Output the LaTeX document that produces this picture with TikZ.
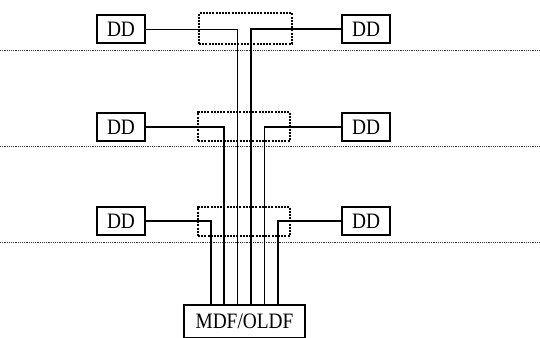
\documentclass[tikz,border=0pt]{standalone}
\usepackage{fontspec}
\setmainfont{Liberation Serif}
\newcommand{\lbltext}[1]{\scalebox{0.88}[1]{\fontsize{22}{22}\selectfont #1}}
\begin{document}
\begin{tikzpicture}[x=1pt,y=-1pt,
  ddbox/.style={draw,line width=1.3pt,minimum width=48pt,minimum height=28pt,inner sep=0pt},
  dashbox/.style={draw,line width=1.3pt,dash pattern=on 2pt off 1.2pt,inner sep=0pt},
  floorline/.style={line width=1pt,dash pattern=on 1.2pt off 1pt,black!80},
  wire/.style={line width=1.2pt}]
\useasboundingbox (0,0) rectangle (540,337);
% floor lines
\draw[floorline] (0,51) -- (540,51);
\draw[floorline] (0,146) -- (540,146);
\draw[floorline] (0,242) -- (540,242);
% dashed boxes
\node[dashbox,minimum width=93pt,minimum height=31pt] (b1) at (245.5,28.5) {};
\node[dashbox,minimum width=92pt,minimum height=29pt] (b2) at (244,126.5) {};
\node[dashbox,minimum width=92pt,minimum height=29pt] (b3) at (244,221.5) {};
% DD boxes
\node[ddbox] (dl1) at (121,29) {\lbltext{DD}};
\node[ddbox] (dr1) at (366,29) {\lbltext{DD}};
\node[ddbox] (dl2) at (121,127) {\lbltext{DD}};
\node[ddbox] (dr2) at (366,127) {\lbltext{DD}};
\node[ddbox] (dl3) at (121,221) {\lbltext{DD}};
\node[ddbox] (dr3) at (366,221) {\lbltext{DD}};
% MDF/OLDF
\node[draw,line width=1.3pt,minimum width=121pt,minimum height=33pt,inner sep=0pt] (mdf) at (244.5,321.5) {\lbltext{MDF/OLDF}};
% wire ends on the MDF/OLDF
\coordinate (m1) at (211,305);
\coordinate (m2) at (224,305);
\coordinate (m3) at (237.5,305);
\coordinate (m4) at (251,305);
\coordinate (m5) at (264.5,305);
\coordinate (m6) at (278,305);
% wires
\draw[wire,line width=0.9pt] (dl1.east) -| (m3);
\draw[wire] (dr1.west) -| (m4);
\draw[wire] (dl2.east) -| (m2);
\draw[wire] (dr2.west) -| (m5);
\draw[wire] (dl3.east) -| (m1);
\draw[wire] (dr3.west) -| (m6);
\end{tikzpicture}
\end{document}
